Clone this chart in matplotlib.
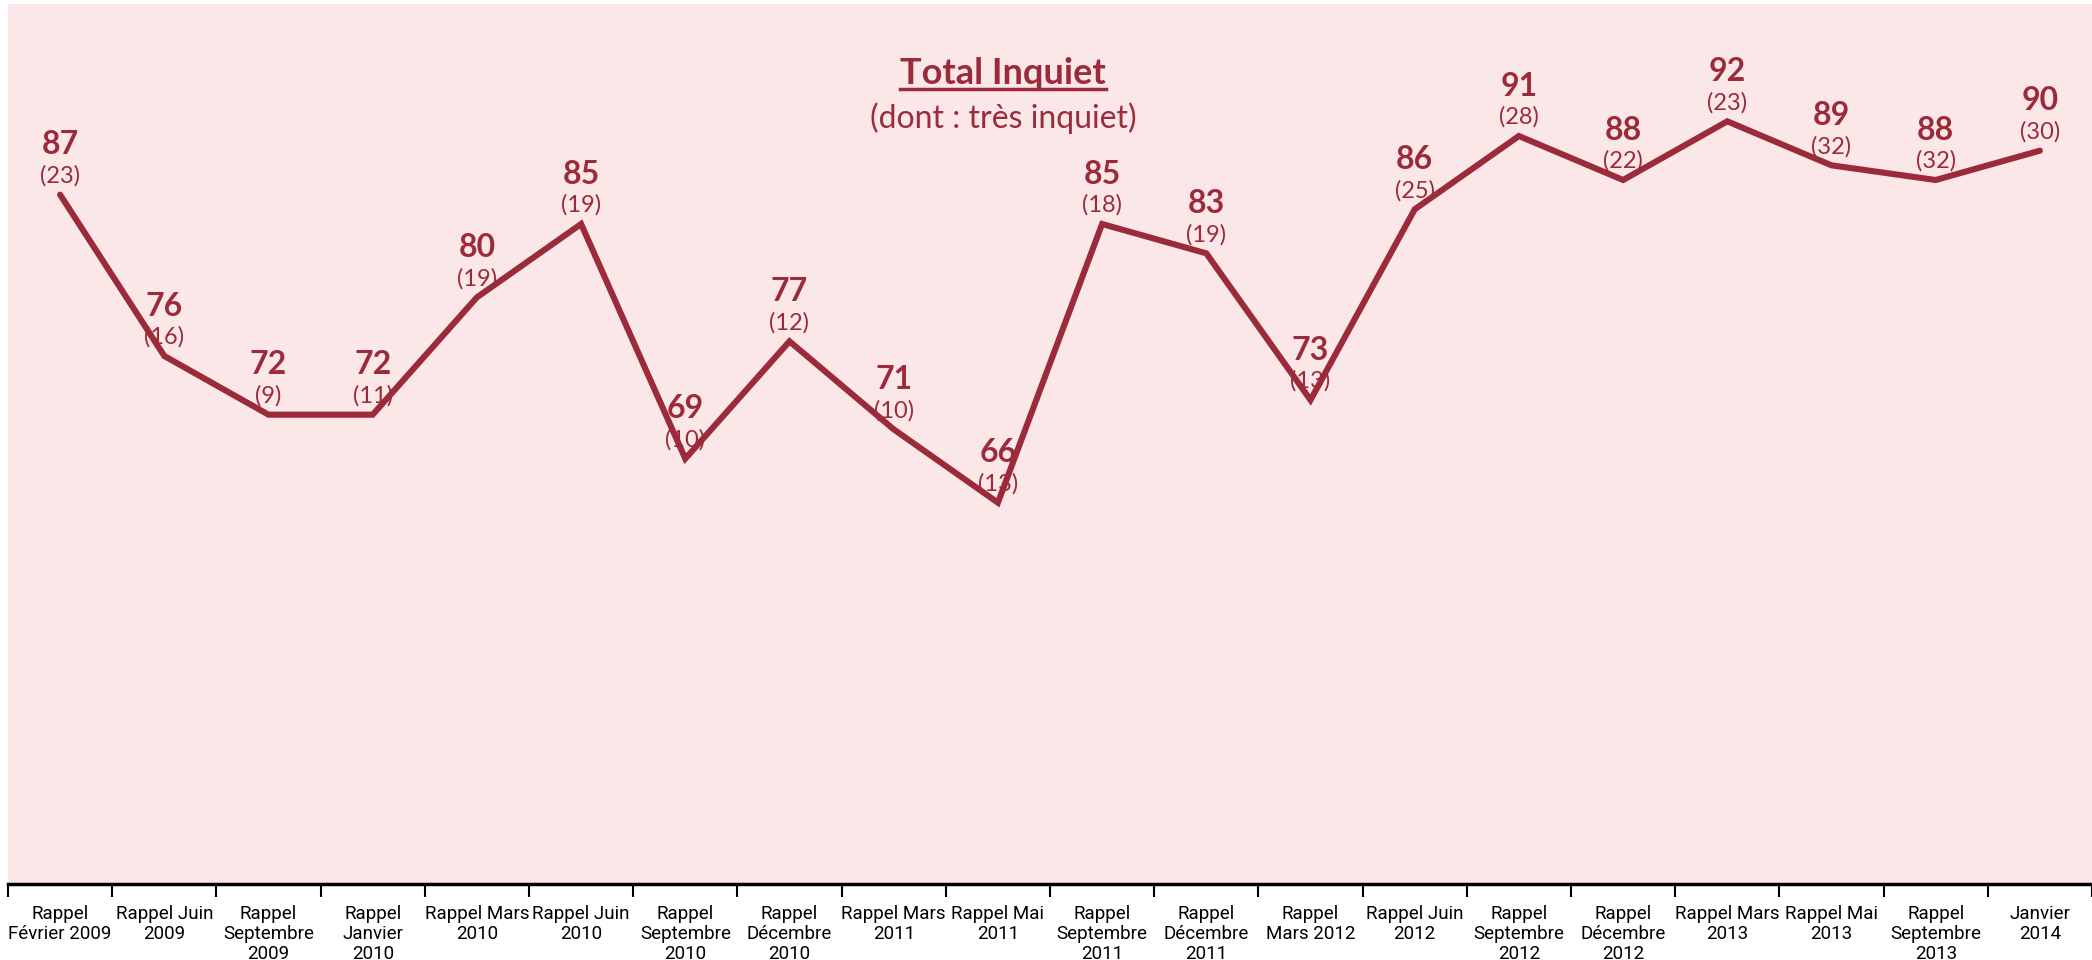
import matplotlib
matplotlib.use("Agg")
import matplotlib.pyplot as plt
from matplotlib.lines import Line2D

# Données
categories = [
    "Rappel\nFévrier 2009", "Rappel Juin\n2009", "Rappel\nSeptembre\n2009",
    "Rappel\nJanvier\n2010", "Rappel Mars\n2010", "Rappel Juin\n2010",
    "Rappel\nSeptembre\n2010", "Rappel\nDécembre\n2010", "Rappel Mars\n2011",
    "Rappel Mai\n2011", "Rappel\nSeptembre\n2011", "Rappel\nDécembre\n2011",
    "Rappel\nMars 2012", "Rappel Juin\n2012", "Rappel\nSeptembre\n2012",
    "Rappel\nDécembre\n2012", "Rappel Mars\n2013", "Rappel Mai\n2013",
    "Rappel\nSeptembre\n2013", "Janvier\n2014",
]
total_inquiet = [87, 76, 72, 72, 80, 85, 69, 77, 71, 66, 85, 83, 73, 86, 91, 88, 92, 89, 88, 90]
tres_inquiet = [23, 16, 9, 11, 19, 19, 10, 12, 10, 13, 18, 19, 13, 25, 28, 22, 23, 32, 32, 30]

rouge = "#9b2b3a"
rose = "#fbe7e8"
police = ["Lato", "DejaVu Sans"]
police_axe = ["Liberation Sans Narrow", "Roboto", "DejaVu Sans"]

fig = plt.figure(figsize=(20.92, 9.6), dpi=100)
ax = fig.add_axes([8 / 2092, 76 / 960, 1 - 8 / 2092, (884 - 4) / 960])
ax.set_facecolor(rose)

x = list(range(len(categories)))
ax.plot(x, total_inquiet, color=rouge, lw=4.4, solid_capstyle="round", solid_joinstyle="miter")

# Étiquettes de valeurs
for xi, v, t in zip(x, total_inquiet, tres_inquiet):
    ax.annotate(str(v), (xi, v), xytext=(0, 36), textcoords="offset points",
                ha="center", va="center", fontsize=23, fontweight="bold",
                color=rouge, family=police)
    ax.annotate(f"({t})", (xi, v), xytext=(0, 13.5), textcoords="offset points",
                ha="center", va="center", fontsize=17, color=rouge, family=police)

ax.set_xlim(-0.5, len(categories) - 0.5)
ax.set_ylim(40, 100)

# Axe X : graduations aux frontières des catégories
ax.set_xticks(x)
ax.set_xticklabels(categories, fontsize=13.5, family=police_axe, linespacing=1.15)
ax.set_xticks([i - 0.5 for i in range(len(categories) + 1)], minor=True)
ax.tick_params(axis="x", which="major", length=0, pad=15)
ax.tick_params(axis="x", which="minor", length=9, width=1.5, direction="out")
ax.set_yticks([])
for s in ["top", "right", "left"]:
    ax.spines[s].set_visible(False)
ax.spines["bottom"].set_linewidth(2.5)

# Titre souligné
titre = fig.text(1003 / 2092, 1 - 73 / 960, "Total Inquiet", ha="center", va="center",
                 fontsize=26, fontweight="bold", color=rouge, family=police)
fig.text(1003 / 2092, 1 - 118 / 960, "(dont : très inquiet)", ha="center", va="center",
         fontsize=23, color=rouge, family=police)
fig.canvas.draw()
bb = titre.get_window_extent()
y_sous = (bb.y0 + 1) / fig.bbox.height
fig.add_artist(Line2D([bb.x0 / fig.bbox.width, bb.x1 / fig.bbox.width], [y_sous, y_sous],
                      color=rouge, lw=2.5, transform=fig.transFigure))

fig.savefig("out.png", dpi=100)
plt.close(fig)
